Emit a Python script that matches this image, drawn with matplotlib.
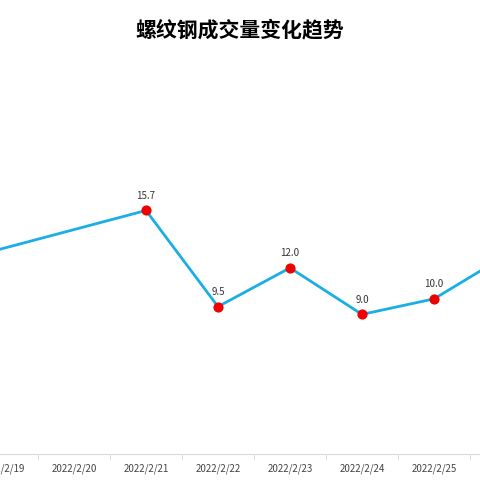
import matplotlib
matplotlib.use("Agg")
import matplotlib.pyplot as plt
import numpy as np

plt.rcParams['font.family'] = ['Noto Sans CJK SC', 'DejaVu Sans']

dates = ["2022/2/18", "2022/2/19", "2022/2/20", "2022/2/21", "2022/2/22", "2022/2/23",
         "2022/2/24", "2022/2/25", "2022/2/26", "2022/2/27", "2022/2/28"]
values = [12.0, None, None, 15.7, 9.5, 12.0, 9.0, 10.0, None, None, 18.4]
title = "螺纹钢成交量变化趋势"

fig = plt.figure(figsize=(4.8, 4.8), dpi=100)
ax = fig.add_axes([0, 1 - 454 / 480, 1, (454 - 60) / 480])
idx = [i for i, v in enumerate(values) if v is not None]
vals = [values[i] for i in idx]
ax.plot(idx, vals, color="#1aaee5", lw=2, zorder=2)
ax.scatter(idx, vals, color="#ee0000", s=40, zorder=3)
for i, v in zip(idx, vals):
    ax.annotate(f"{v:.1f}", (i, v), xytext=(0, 7), textcoords="offset points",
                ha="center", va="bottom", fontsize=7, color="#333333")
ax.set_xticks(range(len(dates)))
ax.set_xticklabels(dates, fontsize=7, color="#444444")
ax.set_xticks(np.arange(len(dates)) + 0.5, minor=True)
ax.tick_params(axis="x", which="major", length=0, pad=7)
ax.tick_params(axis="x", which="minor", length=4, color="#d9d9d9")
ax.set_xlim(1 - 2 / 72, 1 - 2 / 72 + 480 / 72)
ax.set_ylim(0, 25.4)
ax.set_yticks([])
for s in ["top", "left", "right"]:
    ax.spines[s].set_visible(False)
ax.spines["bottom"].set_color("#d9d9d9")
fig.text(0.5, 1 - 30 / 480, title, ha="center", va="center", fontsize=15, fontweight="bold")
fig.savefig("out.png", dpi=100)
